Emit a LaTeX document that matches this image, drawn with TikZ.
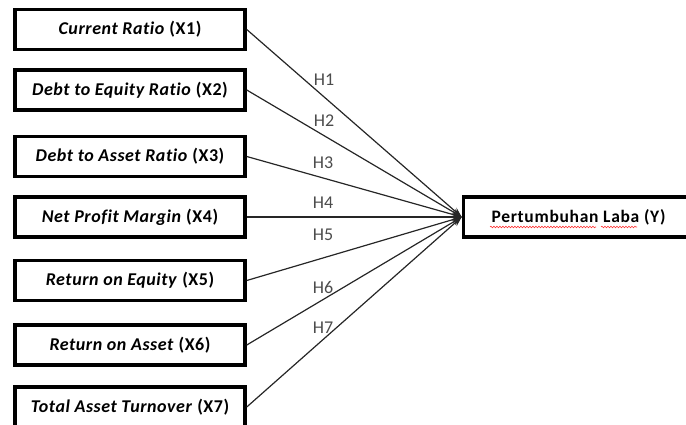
\documentclass[tikz,border=0pt]{standalone}
\usepackage{fontspec}
\setmainfont{Carlito}[Ligatures=NoCommon]
\usetikzlibrary{arrows.meta,decorations.pathmorphing}

\begin{document}
\begin{tikzpicture}[x=1pt,y=-1pt,
    ratiobox/.style ={draw, line width=3.5pt, minimum width=230pt, minimum height=40pt,
      inner sep=0pt, font=\fontsize{18}{20}\selectfont\bfseries\addfontfeatures{LetterSpace=3}},
    targetbox/.style ={ratiobox, font=\fontsize{17.5}{20}\selectfont\bfseries\addfontfeatures{LetterSpace=4}},
    hypothesis/.style ={font=\fontsize{18}{20}\selectfont, text=black!70},
    influence/.style ={line width=1.2pt, draw=black!85, -{Stealth[length=10pt,width=7pt]}},
    spelling/.style ={draw=red!80, line width=0.6pt,
      decorate, decoration={snake, segment length=3pt, amplitude=0.8pt}}]
   \clip (0,0) rectangle (686,425);

   \node[ratiobox] (X1) at (130,29.5)  {\textit{Current Ratio} (X1)};
   \node[ratiobox] (X2) at (130,90)    {\textit{Debt to Equity Ratio} (X2)};
   \node[ratiobox] (X3) at (130,156.5) {\textit{Debt to Asset Ratio} (X3)};
   \node[ratiobox] (X4) at (130,217)   {\textit{Net Profit Margin} (X4)};
   \node[ratiobox] (X5) at (130,280.5) {\textit{Return on Equity} (X5)};
   \node[ratiobox] (X6) at (130,345)   {\textit{Return on Asset} (X6)};
   \node[ratiobox] (X7) at (130,407)   {\textit{Total Asset Turnover} (X7)};
   \node[targetbox] (Y) at (578.5,217) {Pertumbuhan Laba (Y)};

   \draw[influence] (X1.east) to (Y.west);
   \draw[influence] (X2.east) to (Y.west);
   \draw[influence] (X3.east) to (Y.west);
   \draw[influence] (X4.east) to (Y.west);
   \draw[influence] (X5.east) to (Y.west);
   \draw[influence] (X6.east) to (Y.west);
   \draw[influence] (X7.east) to (Y.west);

   \node[hypothesis] (H1) at (324,80)  {H1};
   \node[hypothesis] (H2) at (324,121) {H2};
   \node[hypothesis] (H3) at (323,163) {H3};
   \node[hypothesis] (H4) at (323,203) {H4};
   \node[hypothesis] (H5) at (323,235) {H5};
   \node[hypothesis] (H6) at (323,287) {H6};
   \node[hypothesis] (H7) at (323,328) {H7};

   % spell-check marks under the target label
   \draw[spelling] (490,227) -- (596,227);
   \draw[spelling] (601,227) -- (637,227);
 \end{tikzpicture}
\end{document}
